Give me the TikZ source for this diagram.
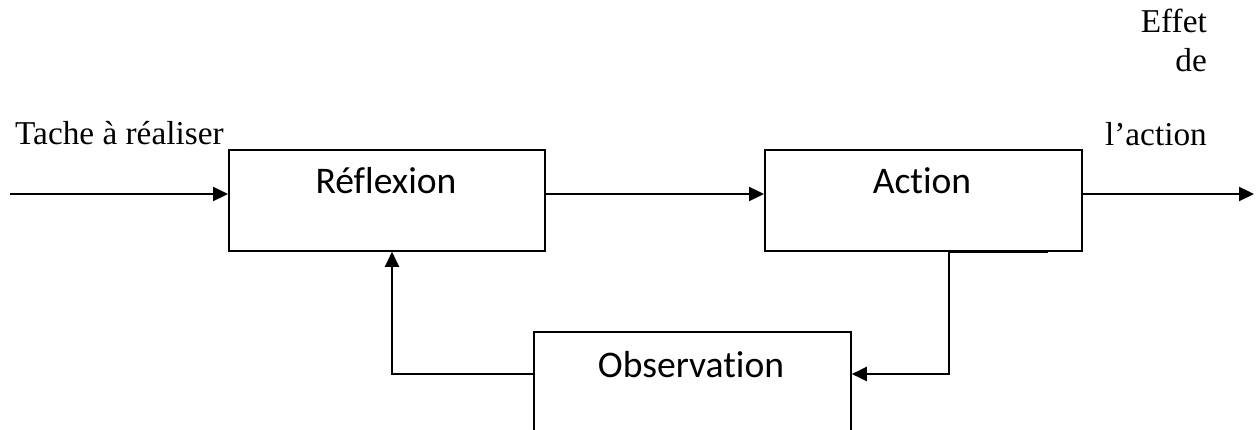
\documentclass[tikz,border=0pt]{standalone}
\usepackage{fontspec}
\setmainfont{Liberation Serif}
\newfontfamily\boxfont[Ligatures=NoCommon]{Carlito}
\usetikzlibrary{arrows.meta}
\begin{document}
\begin{tikzpicture}[x=1pt,y=-1pt,
  block/.style={draw, line width=1.8pt, inner sep=0pt, anchor=north west,
                minimum width=317pt, minimum height=101pt},
  blocklabel/.style={anchor=base, inner sep=0pt,
                     font=\boxfont\fontsize{37.6}{42}\selectfont},
  sidelabel/.style={inner sep=0pt, font=\fontsize{33.3}{38}\selectfont},
  flow/.style={line width=2.3pt, -{Triangle[length=15pt,width=14pt]}},
  plain/.style={line width=2.3pt}]
\useasboundingbox (0,0) rectangle (1258,430);
\clip (0,0) rectangle (1258,430);

% blocks
\node[block, minimum width=316pt] (refl) at (228,149) {};
\node[block] (act) at (764,149) {};
\node[block, minimum height=120pt] (obs) at (533,331) {};

\node[blocklabel] (reflt) at (386,194) {Réflexion};
\node[blocklabel] (actt) at (922,194) {Action};
\node[blocklabel] (obst) at (691,377) {Observation};

% side texts
\node[sidelabel, anchor=base west] (task) at (15,145) {Tache à réaliser};
\node[sidelabel, anchor=base east] (eff1) at (1207,33) {Effet};
\node[sidelabel, anchor=base east] (eff2) at (1207,72) {de};
\node[sidelabel, anchor=base east] (eff3) at (1207,146) {l’action};

% reference points
\coordinate (row) at (0,194);
\coordinate (in) at (10,194);
\coordinate (out) at (1254,194);
\coordinate (fbr) at (949,374);
\coordinate (fbl) at (392,374);
\coordinate (seg) at (1048,250);

% main chain
\draw[flow] (in) -- (refl.west |- row);
\draw[flow] (refl.east |- row) -- (act.west |- row);
\draw[flow] (act.east |- row) -- (out);

% feedback loop
\draw[line width=3pt] (act.south -| fbr) -- (act.south -| seg);
\draw[flow] (act.south -| fbr) -- (fbr) -- (obs.east |- fbr);
\draw[flow] (obs.west |- fbl) -- (fbl) -- (refl.south -| fbl);
\end{tikzpicture}
\end{document}
